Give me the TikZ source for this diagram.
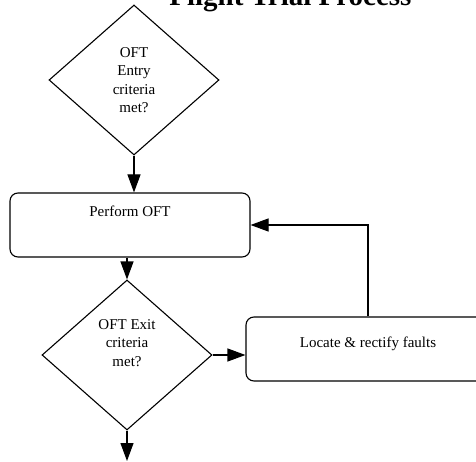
\documentclass[tikz,border=0pt]{standalone}
\usepackage{fontspec}
\setmainfont{Liberation Serif}
\usetikzlibrary{shapes.geometric,arrows.meta}
\begin{document}
\begin{tikzpicture}[x=1pt,y=-1pt,
  every node/.style={font=\fontsize{15}{18.5}\selectfont},
  line/.style={line width=1.1pt,draw=black},
  arr/.style={line, -{Triangle[length=18pt,width=13pt]}},
  decision/.style={diamond, line, minimum width=170pt, minimum height=150pt, inner sep=0pt, align=center, aspect=1.13},
  procbox/.style={rectangle, rounded corners=8pt, line, inner sep=0pt, align=center}
]
\useasboundingbox (0,0) rectangle (476,462);
\node[anchor=base east, font=\bfseries\fontsize{29}{30}\selectfont] (title) at (415,6) {Flight Trial Process};
\node[decision] (d1) at (134,80) {OFT\\Entry\\criteria\\met?};
\node[procbox, minimum width=240pt, text height=24pt, text depth=40pt] (perf) at (130,225) {Perform OFT};
\node[decision] (d2) at (127,355) {OFT Exit\\criteria\\met?\\[6pt]};
\node[procbox, minimum width=244pt, text height=30pt, text depth=34pt] (loc) at (368,349) {Locate \& rectify faults};
\coordinate (end) at (127,461);
\draw[arr] (d1.south) -- (d1.south |- perf.north);
\draw[arr] (perf.south -| d2.north) -- (d2.north);
\draw[arr] (d2.east) -- (d2.east -| loc.west);
\draw[arr] (loc.north) |- (perf.east);
\draw[arr] (d2.south) -- (end);
\end{tikzpicture}
\end{document}
